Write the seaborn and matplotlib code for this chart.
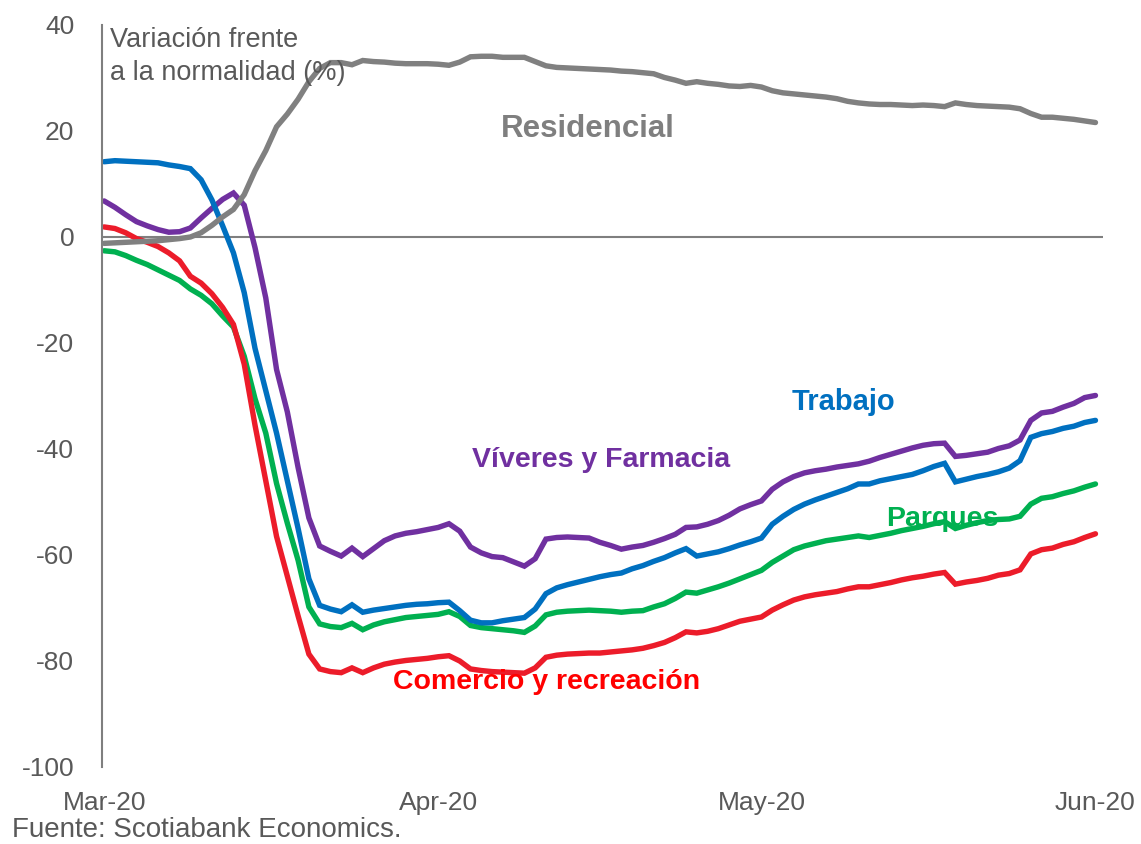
import numpy as np
import pandas as pd
import matplotlib
matplotlib.use("Agg")
import matplotlib.pyplot as plt
import matplotlib.dates as mdates
import seaborn as sns

sns.set_style("white")
plt.rcParams["font.family"] = ["Liberation Sans", "DejaVu Sans"]

dates = pd.date_range("2020-03-01", periods=93, freq="D")

residencial = [
    -1.2, -1.1, -1.0, -0.9, -0.8, -0.7, -0.5, -0.3, 0.0, 0.8,
    2.2, 3.8, 5.2, 8.0, 12.5, 16.3, 20.8, 23.2, 26.0, 29.3,
    31.8, 32.9, 32.9, 32.5, 33.3, 33.1, 33.0, 32.8, 32.7, 32.7,
    32.7, 32.6, 32.4, 33.0, 34.0, 34.1, 34.1, 33.9, 33.9, 33.9,
    33.1, 32.3, 32.0, 31.9, 31.8, 31.7, 31.6, 31.5, 31.3, 31.2,
    31.0, 30.8, 30.1, 29.6, 29.0, 29.3, 29.0, 28.8, 28.5, 28.4,
    28.6, 28.3, 27.6, 27.2, 27.0, 26.8, 26.6, 26.4, 26.1, 25.6,
    25.3, 25.1, 25.0, 25.0, 24.9, 24.8, 24.9, 24.8, 24.6, 25.3,
    25.0, 24.8, 24.7, 24.6, 24.5, 24.2, 23.3, 22.6, 22.6, 22.4,
    22.2, 21.9, 21.6,
]

trabajo = [
    14.2, 14.4, 14.3, 14.2, 14.1, 14.0, 13.6, 13.3, 12.9, 10.8,
    7.0, 2.1, -3.0, -10.5, -21.0, -29.0, -37.0, -46.0, -55.0, -64.5,
    -69.5, -70.2, -70.7, -69.4, -70.8, -70.4, -70.1, -69.8, -69.5, -69.3,
    -69.2, -69.0, -68.9, -70.5, -72.3, -72.8, -72.8, -72.4, -72.1, -71.8,
    -70.2, -67.3, -66.2, -65.6, -65.1, -64.6, -64.1, -63.7, -63.4, -62.6,
    -62.0, -61.2, -60.5, -59.6, -58.8, -60.2, -59.8, -59.4, -58.8, -58.1,
    -57.5, -56.8, -54.2, -52.7, -51.4, -50.4, -49.6, -48.9, -48.2, -47.5,
    -46.6, -46.6, -46.0, -45.6, -45.2, -44.8, -44.1, -43.3, -42.7, -46.2,
    -45.7, -45.2, -44.8, -44.3, -43.6, -42.2, -37.8, -37.1, -36.7, -36.1,
    -35.7, -35.0, -34.6,
]

viveres = [
    6.8, 5.6, 4.2, 2.9, 2.1, 1.4, 0.9, 1.0, 1.7, 3.6,
    5.4, 7.1, 8.3, 6.0, -2.0, -11.5, -25.0, -33.0, -43.5, -53.0,
    -58.3, -59.3, -60.2, -58.7, -60.3, -58.8, -57.3, -56.4, -55.9, -55.6,
    -55.2, -54.8, -54.1, -55.5, -58.5, -59.6, -60.3, -60.5, -61.3, -62.1,
    -60.7, -57.0, -56.7, -56.6, -56.7, -56.8, -57.6, -58.2, -58.9, -58.5,
    -58.2, -57.6, -56.9, -56.1, -54.8, -54.7, -54.2, -53.5, -52.5, -51.3,
    -50.5, -49.8, -47.6, -46.2, -45.2, -44.5, -44.1, -43.8, -43.4, -43.1,
    -42.8, -42.3, -41.6, -41.0, -40.4, -39.8, -39.3, -39.0, -38.9, -41.4,
    -41.2, -40.9, -40.6, -39.9, -39.4, -38.3, -34.6, -33.2, -32.9, -32.1,
    -31.4, -30.3, -29.9,
]

parques = [
    -2.6, -2.8, -3.5, -4.4, -5.2, -6.2, -7.2, -8.2, -9.8, -11.0,
    -12.6, -14.9, -17.0, -22.5, -30.5, -37.0, -46.5, -54.0, -61.0, -69.8,
    -73.0, -73.5, -73.7, -72.9, -74.1, -73.2, -72.6, -72.2, -71.8, -71.6,
    -71.4, -71.2, -70.7, -71.6, -73.3, -73.7, -73.9, -74.1, -74.3, -74.6,
    -73.4, -71.3, -70.8, -70.6, -70.5, -70.4, -70.5, -70.6, -70.8, -70.6,
    -70.5, -69.8, -69.2, -68.2, -67.0, -67.2, -66.6, -66.0, -65.3, -64.5,
    -63.7, -62.9, -61.4, -60.2, -59.0, -58.3, -57.8, -57.3, -57.0, -56.7,
    -56.4, -56.7, -56.3, -55.9, -55.4, -55.0, -54.6, -54.1, -53.7, -55.0,
    -54.4, -53.9, -53.5, -53.3, -53.2, -52.7, -50.4, -49.3, -49.0, -48.4,
    -47.9, -47.2, -46.6,
]

comercio = [
    1.9, 1.6, 0.8, -0.3, -1.0, -1.8, -3.0, -4.5, -7.4, -8.7,
    -10.7, -13.3, -16.5, -24.0, -35.5, -46.0, -56.5, -64.0, -71.5, -78.7,
    -81.5, -82.0, -82.2, -81.3, -82.2, -81.3, -80.6, -80.2, -79.9, -79.7,
    -79.5, -79.2, -79.0, -80.0, -81.5, -81.8, -82.0, -82.1, -82.2, -82.3,
    -81.3, -79.3, -78.9, -78.7, -78.6, -78.5, -78.5, -78.3, -78.1, -77.9,
    -77.6, -77.1, -76.5, -75.6, -74.5, -74.7, -74.4, -73.9, -73.2, -72.5,
    -72.1, -71.7, -70.4, -69.4, -68.5, -67.9, -67.5, -67.2, -66.9, -66.4,
    -66.0, -66.0, -65.6, -65.2, -64.7, -64.3, -64.0, -63.6, -63.3, -65.5,
    -65.1, -64.8, -64.4, -63.8, -63.5, -62.8, -59.8, -59.0, -58.7, -58.0,
    -57.5, -56.7, -56.0,
]

series_names = ["Víveres y Farmacia", "Parques", "Comercio y recreación",
                "Trabajo", "Residencial"]
series_values = [viveres, parques, comercio, trabajo, residencial]
line_colors = {
    "Víveres y Farmacia": "#7030A0",
    "Parques": "#00B050",
    "Comercio y recreación": "#EC1C2A",
    "Trabajo": "#0070C0",
    "Residencial": "#808080",
}

df = pd.concat(
    [pd.DataFrame({"fecha": dates, "valor": v, "serie": n})
     for n, v in zip(series_names, series_values)],
    ignore_index=True,
)

fig = plt.figure(figsize=(11.41, 8.44), dpi=100)
ax = fig.add_axes([102 / 1141, 1 - 767 / 844, 1001 / 1141, 742 / 844])

sns.lineplot(data=df, x="fecha", y="valor", hue="serie", hue_order=series_names,
             palette=line_colors, linewidth=3.9, legend=False, ax=ax,
             solid_joinstyle="miter")

axis_grey = "#7F7F7F"
text_grey = "#595959"

ax.axhline(0, color=axis_grey, lw=1.5, zorder=1)

start = mdates.date2num(pd.Timestamp("2020-03-01"))
ax.set_xlim(start - 0.2, start + 92.7)
ax.set_ylim(-100, 40)
ax.set_yticks(np.arange(-100, 41, 20))
ax.set_yticklabels([str(v) for v in range(-100, 41, 20)])

tick_dates = pd.to_datetime(["2020-03-01", "2020-04-01", "2020-05-01", "2020-06-01"])
ax.set_xticks(mdates.date2num(tick_dates))
ax.set_xticklabels(["Mar-20", "Apr-20", "May-20", "Jun-20"])

for s in ["top", "right", "bottom"]:
    ax.spines[s].set_visible(False)
ax.spines["left"].set_color(axis_grey)
ax.spines["left"].set_linewidth(1.5)

ax.tick_params(axis="y", direction="in", length=5, width=1.2, color=axis_grey,
               labelsize=19, labelcolor=text_grey, pad=20)
ax.tick_params(axis="x", length=0, labelsize=19, labelcolor=text_grey, pad=17)
ax.set_xlabel("")
ax.set_ylabel("")

ax.text(start + 0.55, 39.6, "Variación frente\na la normalidad (%)",
        ha="left", va="top", fontsize=19.5, color=text_grey, linespacing=1.35)

labels = [
    ("Residencial", 44.9, 20.4, "#7F7F7F", 22.5),
    ("Trabajo", 68.6, -31.2, "#0070C0", 21),
    ("Víveres y Farmacia", 46.1, -42.0, "#7030A0", 20.5),
    ("Parques", 77.8, -53.2, "#00B050", 20.5),
    ("Comercio y recreación", 41.1, -84.0, "#FF0000", 20.5),
]
for txt, d, yv, c, fs in labels:
    ax.text(start + d, yv, txt, ha="center", va="center", fontsize=fs,
            fontweight="bold", color=c)

fig.text(12 / 1141, 1 - 830 / 844, "Fuente: Scotiabank Economics.",
         ha="left", va="center", fontsize=20, color=text_grey)

fig.savefig("out.png", dpi=100)
